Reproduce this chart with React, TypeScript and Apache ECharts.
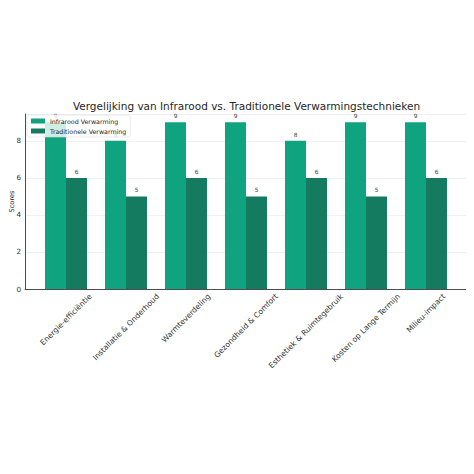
import React, { useEffect, useRef } from "react";
import * as echarts from "echarts";

const categories = [
  "Energie-efficiëntie",
  "Installatie & Onderhoud",
  "Warmteverdeling",
  "Gezondheid & Comfort",
  "Esthetiek & Ruimtegebruik",
  "Kosten op Lange Termijn",
  "Milieu-impact",
];
const infrarood = [9, 8, 9, 9, 8, 9, 9];
const traditioneel = [6, 5, 6, 5, 6, 5, 6];
const yTicks = [0, 2, 4, 6, 8];

const FONT = '"DejaVu Sans", Verdana, sans-serif';
const LABEL_SIZE = 7.6;

const measure = (text: string, size: number) => {
  const ctx = document.createElement("canvas").getContext("2d");
  if (!ctx) return text.length * size * 0.55;
  ctx.font = `${size}px "DejaVu Sans"`;
  return ctx.measureText(text).width;
};

const App = () => {
  const chartRef = useRef<HTMLDivElement>(null);

  useEffect(() => {
    if (!chartRef.current) return;
    const chart = echarts.init(chartRef.current, null, { renderer: "svg" });

    const top = 114;
    const height = 175;

    const options = {
      animation: false,
      textStyle: { fontFamily: FONT },
      title: {
        text: "Vergelijking van Infrarood vs. Traditionele Verwarmingstechnieken",
        left: 241.5,
        textAlign: "center",
        top: 95,
        textStyle: { fontSize: 10.5, fontWeight: "normal", color: "#262626", fontFamily: FONT },
      },
      legend: {
        orient: "vertical",
        left: 27,
        top: 115,
        icon: "rect",
        itemWidth: 14,
        itemHeight: 5,
        itemGap: 4,
        padding: [3, 4, 3, 4],
        backgroundColor: "rgba(255,255,255,0.8)",
        borderColor: "#dddddd",
        borderWidth: 0.6,
        borderRadius: 2,
        textStyle: { fontSize: 6.3, color: "#262626", fontFamily: FONT },
        data: ["Infrarood Verwarming", "Traditionele Verwarming"],
      },
      grid: [
        { left: 25, top, width: 443, height, outerBoundsMode: "none" },
        { left: 36, top, width: 420, height, outerBoundsMode: "none" },
      ],
      xAxis: [
        {
          gridIndex: 0,
          type: "value",
          min: 0,
          max: 1,
          axisLine: { show: true, lineStyle: { color: "#4d4d4d", width: 1 } },
          axisTick: { show: false },
          axisLabel: { show: false },
          splitLine: { show: false },
        },
        {
          gridIndex: 1,
          type: "category",
          data: categories,
          axisLine: { show: false },
          axisTick: { show: false },
          splitLine: { show: false },
          axisLabel: { show: false },
        },
      ],
      yAxis: [
        {
          gridIndex: 0,
          type: "value",
          min: 0,
          max: 9.45,
          interval: 2,
          name: "Scores",
          nameLocation: "middle",
          nameGap: 10,
          nameRotate: 90,
          nameMoveOverlap: false,
          nameTextStyle: { fontSize: 6.6, color: "#262626", fontFamily: FONT },
          axisLine: { show: true, lineStyle: { color: "#4d4d4d", width: 1 } },
          axisTick: { show: false },
          axisLabel: {
            fontSize: 7.2,
            color: "#333333",
            margin: 4,
            fontFamily: FONT,
            formatter: (v: number) => (yTicks.includes(v) ? String(v) : ""),
          },
          splitLine: { show: true, lineStyle: { color: "#ececec", width: 0.8 } },
        },
        {
          gridIndex: 1,
          type: "value",
          min: 0,
          max: 9.45,
          show: false,
          splitLine: { show: false },
        },
      ],
      series: [
        {
          name: "Infrarood Verwarming",
          type: "bar",
          xAxisIndex: 1,
          yAxisIndex: 1,
          data: infrarood,
          barWidth: 21,
          barGap: "0%",
          itemStyle: { color: "#10a37f" },
          label: {
            show: true,
            position: "top",
            distance: 3,
            fontSize: 5.8,
            color: "#444444",
            fontFamily: FONT,
          },
        },
        {
          name: "Traditionele Verwarming",
          type: "bar",
          xAxisIndex: 1,
          yAxisIndex: 1,
          data: traditioneel,
          barWidth: 21,
          barGap: "0%",
          itemStyle: { color: "#147a60" },
          label: {
            show: true,
            position: "top",
            distance: 3,
            fontSize: 5.8,
            color: "#444444",
            fontFamily: FONT,
          },
        },
      ],
    };

    chart.setOption(options as any);

    // rotated category labels, centred under each tick like matplotlib's rotation=45
    const baseY = (chart.convertToPixel({ yAxisIndex: 1 }, 0) as number) + 3;
    const labels = categories.map((c) => {
      const x = chart.convertToPixel({ xAxisIndex: 1 }, c) as number;
      const half = (measure(c, LABEL_SIZE) + LABEL_SIZE * 1.15) * 0.3536;
      return {
        type: "text",
        x,
        y: baseY + half,
        rotation: Math.PI / 4,
        style: {
          text: c,
          fontSize: LABEL_SIZE,
          fontFamily: FONT,
          fill: "#333333",
          align: "center",
          verticalAlign: "middle",
        },
      };
    });
    chart.setOption({ graphic: labels } as any);

    return () => chart.dispose();
  }, []);

  return <div ref={chartRef} style={{ width: "474px", height: "474px", margin: "-8px" }} />;
};

export default App;
